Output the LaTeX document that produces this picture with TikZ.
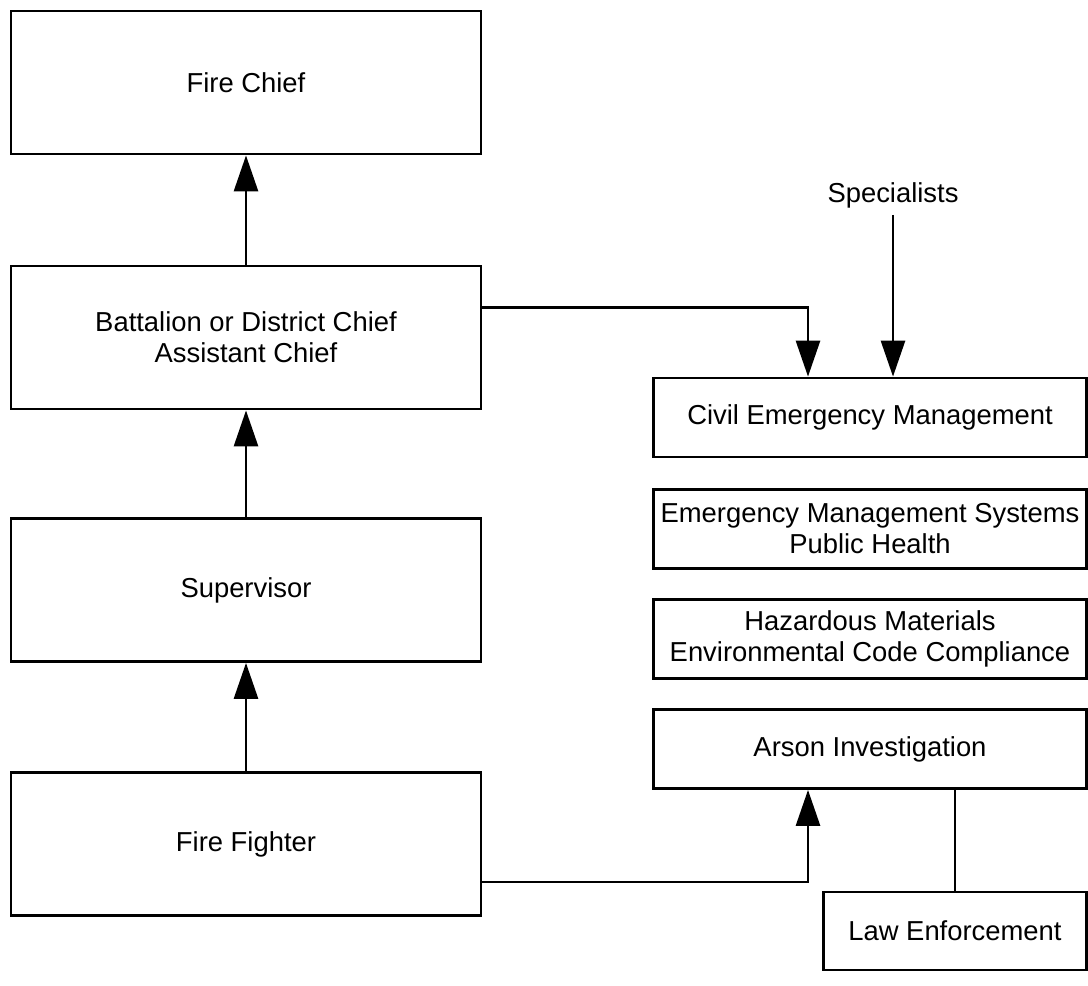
\documentclass[tikz,border=0pt]{standalone}
\usepackage{fontspec}
\setmainfont{Liberation Sans}
\usepackage{tikz}
\usetikzlibrary{arrows.meta}

\begin{document}
\begin{tikzpicture}[x=0.5pt, y=-0.5pt,
		box/.style={draw, line width=1.4pt, align=center, font=\fontsize{13.7}{15.5}\selectfont},
		rank/.style={box, minimum width=235pt, minimum height=71.5pt},
		unit/.style={box, minimum width=216.5pt, minimum height=39.5pt},
		arr/.style={line width=1.4pt, -{Triangle[length=18pt, width=12pt]}}]
		\useasboundingbox (0,0) rectangle (1088,986);

		% chain of command
		\node[rank] (chief) at (246,82.5) {Fire Chief};
		\node[rank] (battalion) at (246,337.5) {Battalion or District Chief\\Assistant Chief};
		\node[rank] (supervisor) at (246,590) {Supervisor};
		\node[rank] (fighter) at (246,844) {Fire Fighter};

		% specialised units
		\node[unit] (civil) at (870,417.5) {Civil Emergency Management};
		\node[unit] (ems) at (870,529) {Emergency Management Systems\\Public Health};
		\node[unit] (hazmat) at (870,639) {Hazardous Materials\\Environmental Code Compliance};
		\node[unit] (arson) at (870,749) {Arson Investigation};
		\node[box, minimum width=131.5pt, minimum height=39pt] (law) at (955,931) {Law Enforcement};
		\node[font=\fontsize{13.7}{15.5}\selectfont] (spec) at (893,195) {Specialists};

		\draw[arr] (battalion.north) -- (chief.south);
		\draw[arr] (supervisor.north) -- (battalion.south);
		\draw[arr] (fighter.north) -- (supervisor.south);

		\draw[arr] ([yshift=15pt]battalion.east) -| ([xshift=-31pt]civil.north);
		\draw[arr] (spec.south) -- (spec.south |- civil.north);
		\draw[arr] ([yshift=-19pt]fighter.east) -| ([xshift=-31pt]arson.south);
		\draw[line width=1.4pt] (law.north) -- (law.north |- arson.south);
	\end{tikzpicture}
\end{document}
